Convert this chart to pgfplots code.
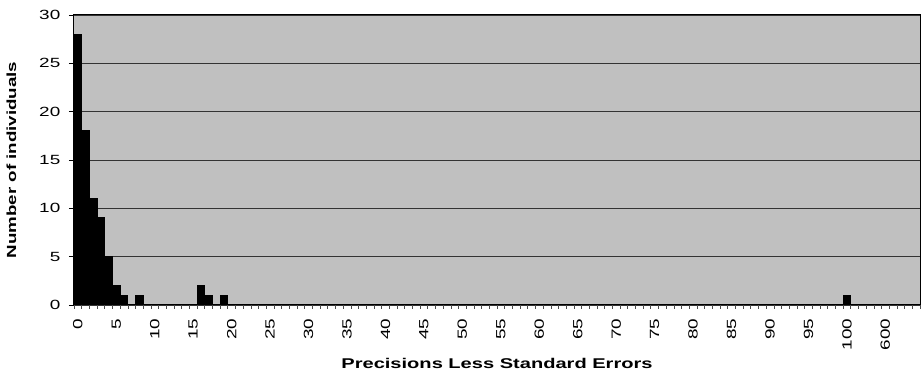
\documentclass[border=0pt]{standalone}
\usepackage{fontspec}
\setmainfont{Liberation Sans}[FakeStretch=1.42]
\usepackage{pgfplots}
\pgfplotsset{compat=1.18}
\definecolor{bg}{HTML}{C0C0C0}
\pgfplotstableread{
x y
0 28
1 18
2 11
3 9
4 5
5 2
6 1
8 1
16 2
17 1
19 1
100 1
}\datatable
\begin{document}
\begin{tikzpicture}
\begin{axis}[
  scale only axis, width=634.5pt, height=217.5pt,
  xmin=-0.5, xmax=109.5, ymin=0, ymax=30,
  axis background/.style={fill=bg},
  axis line style={black, line width=0.75pt},
  ytick={0,5,...,30}, ymajorgrids,
  major grid style={black!80, line width=0.6pt},
  xtick={0,5,...,105},
  xticklabels={0,5,10,15,20,25,30,35,40,45,50,55,60,65,70,75,80,85,90,95,100,600},
  minor xtick={-0.5,0.5,...,109.5},
  xtick pos=bottom, ytick pos=left,
  tick align=outside,
  major x tick style={draw=none},
  minor x tick style={black!70, line width=0.5pt},
  y tick style={black, line width=0.6pt},
  minor tick length=3pt, major tick length=3.75pt,
  /pgf/number format/assume math mode=true,
  tick label style={font=\fontsize{10}{11}\selectfont},
  x tick label style={rotate=90, anchor=east, xshift=-3pt},
  y tick label style={xshift=-3pt},
  xlabel={Precisions Less Standard Errors},
  ylabel={Number of individuals},
  every axis x label/.style={at={(axis description cs:0.5,0)}, anchor=center, yshift=-44pt, font=\bfseries\fontsize{10.6}{12}\selectfont},
  every axis y label/.style={at={(axis description cs:0,0.5)}, xshift=-47pt, rotate=90, anchor=center, font=\bfseries\fontsize{9.9}{12}\selectfont},
]
\addplot[ybar, bar width=1, bar shift=0pt, fill=black, draw=black, line width=0pt] table[x=x,y=y] {\datatable};
\end{axis}
\path (current axis.south west) ++(-55.5pt,-54pt) coordinate (bbA);
\path (current axis.north east) ++(0.75pt,11.25pt) coordinate (bbB);
\pgfresetboundingbox
\path (bbA) rectangle (bbB);
\end{tikzpicture}
\end{document}
